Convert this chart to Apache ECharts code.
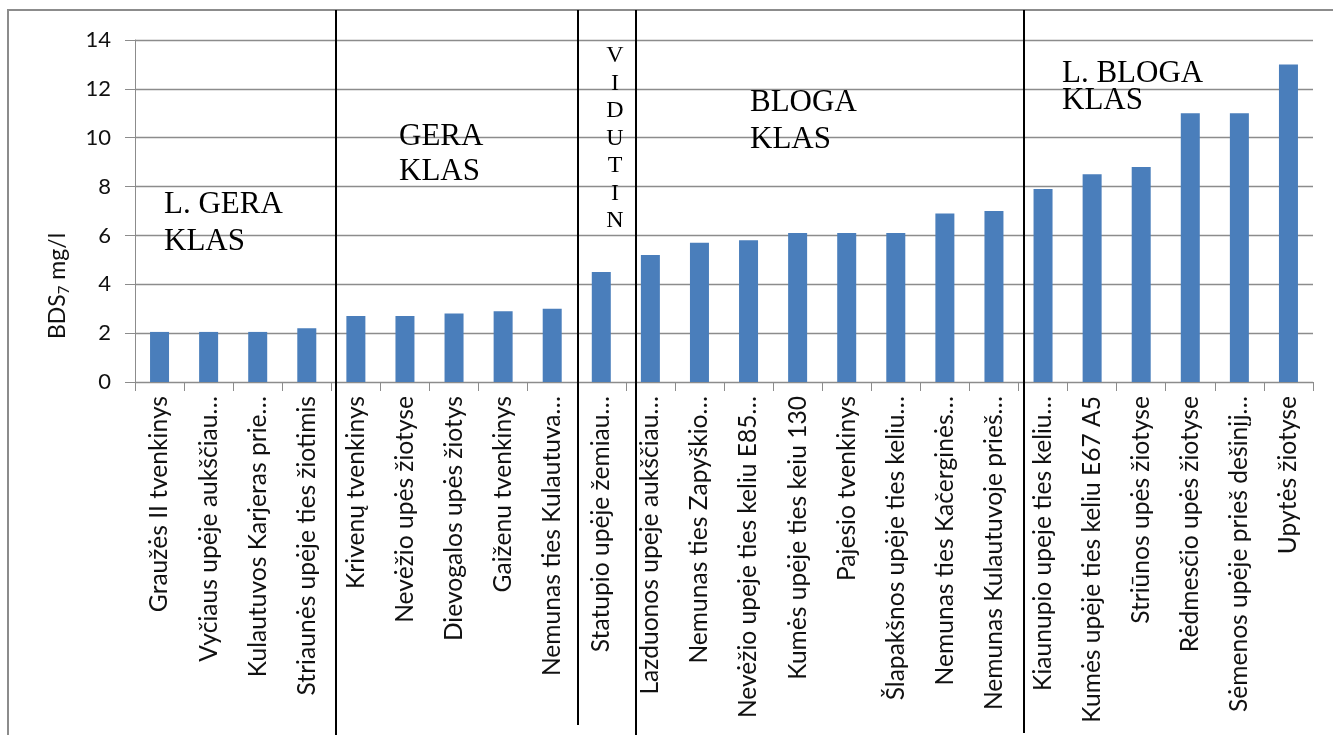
<!DOCTYPE html>
<html>
<head>
<meta charset="utf-8">
<title>BDS7 mg/l</title>
<script src="https://cdn.jsdelivr.net/npm/echarts@6/dist/echarts.min.js"></script>
<style>
  html, body { margin: 0; padding: 0; background: #fff; }
  #chart { width: 1333px; height: 735px; }
</style>
</head>
<body>
<div id="chart"></div>
<script>
// Sampling sites (labels as printed, long ones cut with an ellipsis)
const categories = [
  'Graužės II tvenkinys',
  'Vyčiaus upėje aukščiau…',
  'Kulautuvos Karjeras prie…',
  'Striaunės upėje ties žiotimis',
  'Krivenų tvenkinys',
  'Nevėžio upės žiotyse',
  'Dievogalos upės žiotys',
  'Gaiženu tvenkinys',
  'Nemunas ties Kulautuva…',
  'Statupio upėje žemiau…',
  'Lazduonos upeje aukščiau…',
  'Nemunas ties Zapyškio…',
  'Nevėžio upeje ties keliu E85…',
  'Kumės upėje ties keiu 130',
  'Pajesio tvenkinys',
  'Šlapakšnos upėje ties keliu…',
  'Nemunas ties Kačerginės…',
  'Nemunas Kulautuvoje prieš…',
  'Kiaunupio upeje ties keliu…',
  'Kumės upėje ties keliu E67 A5',
  'Striūnos upės žiotyse',
  'Rėdmesčio upės žiotyse',
  'Sėmenos upėje prieš dešinįj…',
  'Upytės žiotyse'
];

// BDS7 concentration, mg/l
const bds7 = [
  2.05, 2.05, 2.05, 2.2,
  2.7, 2.7, 2.8, 2.9, 3.0,
  4.5,
  5.2, 5.7, 5.8, 6.1, 6.1, 6.1, 6.9, 7.0,
  7.9, 8.5, 8.8, 11.0, 11.0, 13.0
];

// Value axis range
const yMin = 0;
const yMax = 14;
const yStep = 2;

// Water quality class captions
const classLabels = ['L. GERA\nKLAS', 'GERA\nKLAS', 'V\nI\nD\nU\nT\nI\nN', 'BLOGA\nKLAS', 'L. BLOGA\nKLAS'];

const chart = echarts.init(document.getElementById('chart'), null, { renderer: 'canvas' });

const labelFont = 'Lato, "Open Sans", sans-serif';
const serif = '"Liberation Serif", "DejaVu Serif", serif';

function divider(x, y2) {
  return {
    type: 'line',
    shape: { x1: x, y1: 10, x2: x, y2: y2 },
    style: { stroke: '#000', lineWidth: 2 },
    z: 10
  };
}

function caption(text, x, y, size, lh, align) {
  return {
    type: 'text',
    x: x, y: y,
    style: {
      text: text,
      fill: '#000',
      font: size + 'px ' + serif,
      lineHeight: lh,
      align: align || 'left',
      verticalAlign: 'top'
    },
    z: 10
  };
}

chart.setOption({
  animation: false,
  backgroundColor: '#fff',
  grid: { left: 135, right: 20, top: 40, bottom: 353, containLabel: false },
  xAxis: {
    type: 'category',
    data: categories,
    axisLine: { show: true, lineStyle: { color: '#8c8c8c', width: 1 } },
    axisTick: { show: true, length: 9, lineStyle: { color: '#8c8c8c' } },
    axisLabel: {
      rotate: 90,
      interval: 0,
      margin: 14,
      color: '#111',
      fontFamily: labelFont,
      fontSize: 24.6
    },
    splitLine: { show: false }
  },
  yAxis: {
    type: 'value',
    min: yMin,
    max: yMax,
    interval: yStep,
    axisLine: { show: true, lineStyle: { color: '#8c8c8c', width: 1 } },
    axisTick: { show: true, length: 10, lineStyle: { color: '#8c8c8c' } },
    axisLabel: {
      margin: 24,
      color: '#111',
      fontFamily: labelFont,
      fontSize: 22
    },
    splitLine: { show: true, lineStyle: { color: '#8c8c8c', width: 1.3 } }
  },
  series: [{
    type: 'bar',
    data: bds7,
    barWidth: 19,
    itemStyle: { color: '#4a7ebb' }
  }],
  graphic: [
    // outer frame
    {
      type: 'rect',
      shape: { x: 8, y: 10, width: 1400, height: 800 },
      style: { fill: 'none', stroke: '#8c8c8c', lineWidth: 2 },
      z: 1
    },
    // class dividers
    divider(336, 735),
    divider(578, 725),
    divider(636, 735),
    divider(1024, 733),
    // class captions
    caption(classLabels[0], 164, 187, 31, 36.7),
    caption(classLabels[1], 399, 119, 31, 35),
    caption(classLabels[2], 615, 42, 24, 27.5, 'center'),
    caption(classLabels[3], 750, 85, 31, 36.7),
    caption(classLabels[4], 1062, 60, 31, 27),
    // y axis title with subscript
    {
      type: 'text',
      x: 58, y: 286,
      rotation: Math.PI / 2,
      style: {
        text: '{n|BDS}{s|7}{n| mg/l}',
        align: 'center',
        verticalAlign: 'middle',
        fill: '#111',
        rich: {
          n: { fontFamily: labelFont, fontSize: 23, lineHeight: 28, fill: '#111' },
          s: { fontFamily: labelFont, fontSize: 15, lineHeight: 14, verticalAlign: 'bottom', fill: '#111' }
        }
      },
      z: 10
    }
  ]
});
</script>
</body>
</html>
